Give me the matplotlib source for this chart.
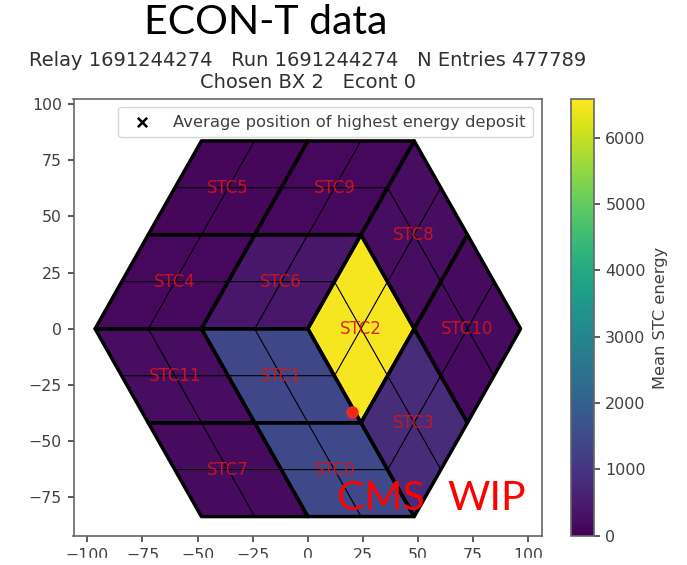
import numpy as np
import matplotlib
matplotlib.use('Agg')
import matplotlib.pyplot as plt
from matplotlib.collections import PolyCollection
from matplotlib.patches import Rectangle

# STC name, mean energy, corners of the rhombus (x, y)
stc_names = ['STC0', 'STC1', 'STC2', 'STC3', 'STC4', 'STC5',
             'STC6', 'STC7', 'STC8', 'STC9', 'STC10', 'STC11']
stc_energy = [1420, 1400, 6500, 800, 130, 120, 400, 180, 230, 130, 190, 210]
stc_corners = [
    [(-24.1, -41.8), (24.1, -41.8), (48.25, -83.5), (0, -83.5)],
    [(-48.25, 0), (0, 0), (24.1, -41.8), (-24.1, -41.8)],
    [(24.1, 41.8), (48.25, 0), (24.1, -41.8), (0, 0)],
    [(48.25, 0), (72.4, -41.8), (48.25, -83.5), (24.1, -41.8)],
    [(-72.4, 41.8), (-24.1, 41.8), (-48.25, 0), (-96.5, 0)],
    [(-48.25, 83.5), (0, 83.5), (-24.1, 41.8), (-72.4, 41.8)],
    [(-24.1, 41.8), (24.1, 41.8), (0, 0), (-48.25, 0)],
    [(-72.4, -41.8), (-24.1, -41.8), (0, -83.5), (-48.25, -83.5)],
    [(48.25, 83.5), (72.4, 41.8), (48.25, 0), (24.1, 41.8)],
    [(0, 83.5), (48.25, 83.5), (24.1, 41.8), (-24.1, 41.8)],
    [(72.4, 41.8), (96.5, 0), (72.4, -41.8), (48.25, 0)],
    [(-96.5, 0), (-48.25, 0), (-24.1, -41.8), (-72.4, -41.8)],
]
avg_x = [20]
avg_y = [-37]

title_line1 = 'Relay 1691244274   Run 1691244274   N Entries 477789'
title_line2 = 'Chosen BX 2   Econt 0'

W, H = 687, 565
fig = plt.figure(figsize=(W/100, H/100), dpi=100)
ax = fig.add_axes([73.5/W, 1-535.7/H, 468/W, 436.4/H])
cax = fig.add_axes([570.5/W, 1-535.7/H, 23/W, 436.4/H])

grey = '#404040'

# four trigger cells in each STC
tc_polys = []
tc_vals = []
for corners, val in zip(stc_corners, stc_energy):
    p = np.array(corners)
    c = p.mean(axis=0)
    for i in range(4):
        tc_polys.append([p[i], (p[i]+p[(i+1) % 4])/2, c, (p[i]+p[i-1])/2])
        tc_vals.append(val)

tcs = PolyCollection(tc_polys, array=np.array(tc_vals), cmap='viridis',
                     edgecolors='black', linewidths=0.7)
tcs.set_clim(0, 6580)
ax.add_collection(tcs)
ax.add_collection(PolyCollection(stc_corners, facecolors='none',
                                 edgecolors='black', linewidths=2.5, joinstyle='round'))

for name, corners in zip(stc_names, stc_corners):
    c = np.mean(corners, axis=0)
    ax.text(c[0], c[1], name, color='#d4151c', ha='center', va='center', fontsize=12, alpha=0.9)

ax.scatter(avg_x, avg_y, color='#ee2a1c', s=80, zorder=5, linewidths=0)
handle = ax.scatter([], [], marker='x', color='black', s=45, linewidths=1.8)
ax.legend([handle], ['Average position of highest energy deposit'], loc='upper right',
          fontsize=11.8, labelcolor=grey, borderaxespad=0, handletextpad=0.9, borderpad=0.45,
          bbox_to_anchor=(0.982, 0.982))

ax.set_xlim(-106.3, 106)
ax.set_ylim(-92, 102)
ax.set_xticks(np.arange(-100, 101, 25))
ax.set_yticks(np.arange(-75, 101, 25))
ax.tick_params(labelsize=11.3, colors=grey, width=1.2, length=4, pad=4.5)
for s in ax.spines.values():
    s.set_color('#666666')
    s.set_linewidth(1.2)

cb = fig.colorbar(tcs, cax=cax)
cb.set_ticks(np.arange(0, 6001, 1000))
cb.ax.tick_params(labelsize=11.5, colors=grey, width=1.2, length=4, pad=4.5)
cb.outline.set_edgecolor('#666666')
cb.outline.set_linewidth(1.2)
cb.set_label('Mean STC energy', fontsize=11.7, color=grey, labelpad=5)

fig.text(308/W, 1-61/H, title_line1, ha='center', va='center', fontsize=14, color='#303030')
fig.text(308/W, 1-83/H, title_line2, ha='center', va='center', fontsize=14, color='#303030')
fig.text(266/W, 1-23/H, 'ECON-T data', ha='center', va='center', fontsize=29.5,
         family='Lato', color='black')
fig.text(381/W, 1-498/H, 'CMS', ha='center', va='center', fontsize=29.5,
         family='Lato', color='#ff0000')
fig.text(487/W, 1-498/H, 'WIP', ha='center', va='center', fontsize=29.5,
         family='Lato', color='#ff0000')

# screenshot cuts the x tick labels off near the bottom
fig.add_artist(Rectangle((0, 0), 1, 7/H, transform=fig.transFigure, color='white', zorder=10))

fig.savefig('out.png', dpi=100)
